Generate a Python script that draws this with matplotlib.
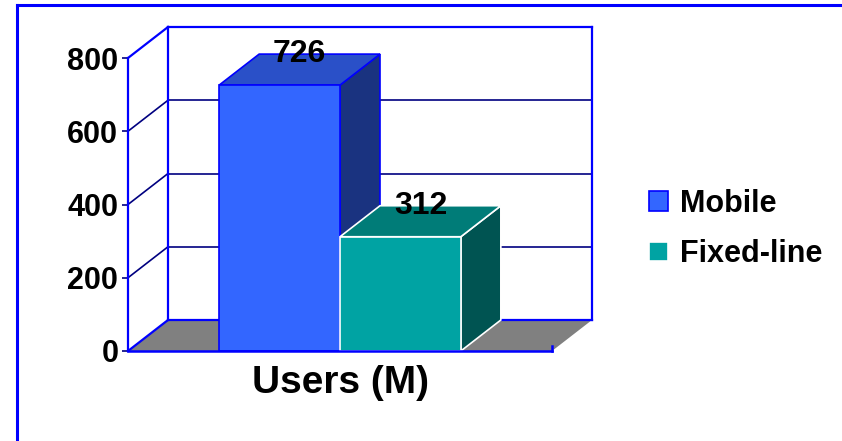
import matplotlib
matplotlib.use('Agg')
import matplotlib.pyplot as plt
from matplotlib.patches import Polygon, Patch
from matplotlib.lines import Line2D

plt.rcParams['font.family'] = ['Liberation Sans', 'DejaVu Sans']
plt.rcParams['font.weight'] = 'bold'

# data
series = ['Mobile', 'Fixed-line']
values = [726, 312]
category = 'Users (M)'
yticks = [0, 200, 400, 600, 800]

front_colors = ['#3366FF', '#00A3A3']
top_colors = ['#2A50C8', '#007C78']
side_colors = ['#1A3380', '#005452']
edge_colors = ['#0000FF', '#FFFFFF']

BLUE = '#0000FF'
NAVY = '#000080'

fig = plt.figure(figsize=(8.42, 4.41), dpi=100)
ax = fig.add_axes([128 / 842, 90 / 441, 424 / 842, 293 / 441])
ax.set_xlim(0, 1)
ax.set_ylim(0, 800)

# depth of the 3d effect, in data units
ddx = 40 / 424
ddy = 31 / 293 * 800

for s in ['top', 'right', 'bottom']:
    ax.spines[s].set_visible(False)
ax.spines['left'].set_color(BLUE)
ax.spines['left'].set_linewidth(1.6)
ax.set_xticks([])
ax.set_yticks(yticks)
ax.set_yticklabels([str(t) for t in yticks], fontsize=22, fontweight='bold')
ax.tick_params(axis='y', length=4, width=1.2, color=NAVY, pad=3)
ax.set_xlabel(category, fontsize=28, fontweight='bold', labelpad=10)
ax.patch.set_alpha(0)

# floor
floor = Polygon([(0, 0), (1, 0), (1 + ddx, ddy), (ddx, ddy)], closed=True,
                facecolor='#808080', edgecolor='none', clip_on=False, zorder=1)
ax.add_patch(floor)

# walls and gridlines
for t in yticks[1:]:
    c = BLUE if t == yticks[-1] else NAVY
    lw = 1.6 if t == yticks[-1] else 1.2
    ax.plot([0, ddx], [t, t + ddy], color=c, lw=lw, clip_on=False, zorder=2)
    ax.plot([ddx, 1 + ddx], [t + ddy, t + ddy], color=c, lw=lw, clip_on=False, zorder=2)
ax.plot([0, ddx], [0, ddy], color=BLUE, lw=1.6, clip_on=False, zorder=2)
ax.plot([ddx, 1 + ddx], [ddy, ddy], color=BLUE, lw=1.6, clip_on=False, zorder=2)
ax.plot([ddx, ddx], [ddy, 800 + ddy], color=BLUE, lw=1.6, clip_on=False, zorder=2)
ax.plot([1 + ddx, 1 + ddx], [ddy, 800 + ddy], color=BLUE, lw=1.6, clip_on=False, zorder=2)

# bars
width = 0.285
lefts = [0.5 - width, 0.5]
for i, v in enumerate(values):
    x0 = lefts[i]
    x1 = x0 + width
    z = 3 + i
    side = Polygon([(x1, 0), (x1 + ddx, ddy), (x1 + ddx, v + ddy), (x1, v)],
                   facecolor=side_colors[i], edgecolor=edge_colors[i], lw=1.2,
                   clip_on=False, zorder=z)
    top = Polygon([(x0, v), (x1, v), (x1 + ddx, v + ddy), (x0 + ddx, v + ddy)],
                  facecolor=top_colors[i], edgecolor=edge_colors[i], lw=1.2,
                  clip_on=False, zorder=z)
    front = Polygon([(x0, 0), (x1, 0), (x1, v), (x0, v)],
                    facecolor=front_colors[i], edgecolor=edge_colors[i], lw=1.2,
                    clip_on=False, zorder=z)
    for p in (side, top, front):
        ax.add_patch(p)
    ax.text((x0 + x1) / 2 + ddx / 2, v + ddy, str(v), ha='center', va='center',
            fontsize=23, fontweight='bold', zorder=10, clip_on=False)

# front edge of the floor
ax.plot([0, 1], [0, 0], color=BLUE, lw=1.8, clip_on=False, zorder=8)
ax.plot([1, 1], [0, 15], color=BLUE, lw=1.8, clip_on=False, zorder=8)

# legend
handles = [Patch(facecolor=front_colors[0], edgecolor=BLUE, lw=1.2),
           Patch(facecolor=front_colors[1], edgecolor='white', lw=1.2)]
fig.legend(handles, series, loc='center left', bbox_to_anchor=(649 / 842, 1 - 229 / 441),
           frameon=False, handlelength=0.62, handleheight=0.62, borderpad=0,
           borderaxespad=0, handletextpad=0.4, labelspacing=0.67,
           prop={'weight': 'bold', 'size': 22})

# outer frame
fig.add_artist(Line2D([17 / 842, 17 / 842], [0, 1 - 5 / 441], color=BLUE, lw=2.2,
                      transform=fig.transFigure))
fig.add_artist(Line2D([17 / 842, 1], [1 - 5 / 441, 1 - 5 / 441], color=BLUE, lw=2.2,
                      transform=fig.transFigure))

fig.savefig('out.png', dpi=100, facecolor='white')
